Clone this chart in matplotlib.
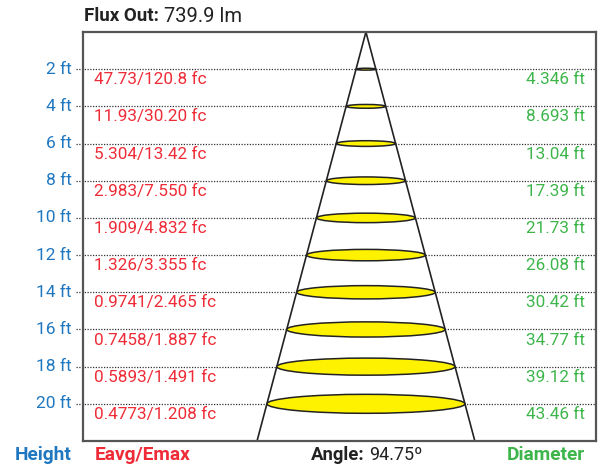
import matplotlib
matplotlib.use("Agg")
import matplotlib.pyplot as plt
from matplotlib.patches import Ellipse

heights = [2, 4, 6, 8, 10, 12, 14, 16, 18, 20]
height_labels = ["2 ft", "4 ft", "6 ft", "8 ft", "10 ft", "12 ft", "14 ft", "16 ft", "18 ft", "20 ft"]
illum_labels = ["47.73/120.8 fc", "11.93/30.20 fc", "5.304/13.42 fc", "2.983/7.550 fc",
                "1.909/4.832 fc", "1.326/3.355 fc", "0.9741/2.465 fc", "0.7458/1.887 fc",
                "0.5893/1.491 fc", "0.4773/1.208 fc"]
diameters = [4.346, 8.693, 13.04, 17.39, 21.73, 26.08, 30.42, 34.77, 39.12, 43.46]
diam_labels = ["4.346 ft", "8.693 ft", "13.04 ft", "17.39 ft", "21.73 ft", "26.08 ft",
               "30.42 ft", "34.77 ft", "39.12 ft", "43.46 ft"]
flux = "739.9 lm"
angle = "94.75º"

BLUE = "#1f77c0"
RED = "#ee2b36"
GREEN = "#3db54a"
DARK = "#222222"

plt.rcParams['font.family'] = ['Roboto', 'DejaVu Sans']

fig = plt.figure(figsize=(6.08, 4.66), dpi=100)
W, H = 608, 466
ax = fig.add_axes([83 / W, 1 - 441 / H, (596 - 83) / W, (441 - 32) / H])

ymax = 22.0
xl, xr = -62.1, 50.5
ax.set_xlim(xl, xr)
ax.set_ylim(ymax, 0)
ax.set_xticks([])
ax.set_yticks([])
for s in ax.spines.values():
    s.set_color("#555555")
    s.set_linewidth(1.6)

# grid lines (extend left past the axes)
for h in heights:
    ax.plot([xl - 1.5, xr], [h, h], ls=(0, (1, 1.2)), color="#333333", lw=0.9,
            clip_on=False, zorder=1)

# cone
slope = diameters[-1] / 2 / heights[-1]
ax.plot([0, -slope * ymax], [0, ymax], color=DARK, lw=1.2, zorder=2)
ax.plot([0, slope * ymax], [0, ymax], color=DARK, lw=1.2, zorder=2)

# ellipses
for h, d in zip(heights, diameters):
    e = Ellipse((0, h), width=d, height=0.0235 * d, facecolor="#fff200",
                edgecolor=DARK, lw=1.1, zorder=3)
    ax.add_patch(e)

tr = ax.get_yaxis_transform()
for h, hl, il, dl in zip(heights, height_labels, illum_labels, diam_labels):
    ax.text(-11 / 513, h, hl, transform=tr, ha="right", va="center",
            color=BLUE, fontsize=12.5)
    ax.text(11 / 513, h + 0.57, il, transform=tr, ha="left",
            va="center", color=RED, fontsize=12.3)
    ax.text(1 - 11 / 513, h + 0.57, dl, transform=tr, ha="right",
            va="center", color=GREEN, fontsize=12.3)

renderer = fig.canvas.get_renderer()


def pair(x0, y, bold_txt, norm_txt, size, size2, gap=4):
    t1 = fig.text(x0 / W, y, bold_txt, fontsize=size, fontweight="bold", color=DARK,
                  ha="left", va="center")
    bb = t1.get_window_extent(renderer=renderer)
    fig.text((bb.x1 + gap) / W, y, norm_txt, fontsize=size2, color=DARK,
             ha="left", va="center")


# header
pair(84, 1 - 16 / H, "Flux Out:", flux, 13.5, 14.5, gap=5)

# footer
fy = 1 - 455 / H
fig.text(72 / W, fy, "Height", fontsize=13.8, fontweight="bold", color=BLUE,
         ha="right", va="center")
fig.text(95 / W, fy, "Eavg/Emax", fontsize=13.8, fontweight="bold", color=RED,
         ha="left", va="center")
pair(311, fy, "Angle:", angle, 13.3, 13.0)
fig.text(585 / W, fy, "Diameter", fontsize=13.8, fontweight="bold", color=GREEN,
         ha="right", va="center")

fig.savefig("out.png", dpi=100)
